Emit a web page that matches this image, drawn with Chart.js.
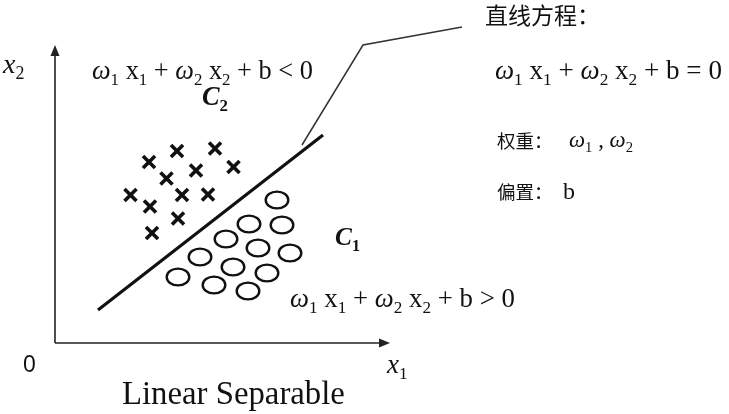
<!DOCTYPE html>
<html><head><meta charset="utf-8">
<script src="https://cdn.jsdelivr.net/npm/chart.js@4/dist/chart.umd.min.js"></script>
<style>html,body{margin:0;padding:0;background:#fff}#wrap{width:729px;height:414px;position:relative}</style>
</head><body><div id="wrap"><canvas id="c"></canvas></div>
<script>
// Diagram coordinates: x1 to the right of the origin, x2 upward.
const classC2X = [94,122,160,111.5,141,178.5,75.5,127,153,95,123,97];
const classC2Y = [181,192,194.5,164.5,172.5,176,148,148,148.5,136.5,124.5,110];
const classC1X = [222,194,227,171,203,235,145,178,212,123,159,193];
const classC1Y = [143,119,118,104,95,90,86,76,70,66,58,52];
const boundaryX = [43,268];
const boundaryY = [33,208];
const leaderX = [247,308,407];
const leaderY = [198,298,316];
const axisLabels = ['0','x1','x2'];
const title = 'Linear Separable';

const SERIF = '"Liberation Serif","DejaVu Serif",serif';
const CJK = '"Noto Sans CJK SC",sans-serif';

// ellipse marker
const ell = document.createElement('canvas');
ell.width = 28; ell.height = 22;
(function(){const g=ell.getContext('2d');g.lineWidth=2.4;g.strokeStyle='#111';g.beginPath();g.ellipse(14,11,11.3,8.4,0,0,Math.PI*2);g.stroke();})();

function pts(xs,ys){return xs.map((x,i)=>({x:x,y:ys[i]}));}

function rich(ctx,x,y,parts,size,align,target){
  const fontOf=(st,sz)=>{
    if(st==='i') return 'italic '+sz+'px '+SERIF;
    if(st==='s') return (sz*0.64).toFixed(2)+'px '+SERIF;
    if(st==='bi') return 'bold italic '+sz+'px '+SERIF;
    if(st==='bs') return 'bold '+(sz*0.64).toFixed(2)+'px '+SERIF;
    if(st==='c') return sz+'px '+CJK;
    return sz+'px '+SERIF;
  };
  const measure=(sz)=>{let w=0;parts.forEach(p=>{const s=sz*(p[2]||1);ctx.font=fontOf(p[1],s);w+=ctx.measureText(p[0]).width;});return w;};
  let w=measure(size);
  if(target){size=size*target/w;w=measure(size);}
  let cx = align==='center'? x-w/2 : align==='right'? x-w : x;
  ctx.textBaseline='alphabetic';ctx.textAlign='left';
  parts.forEach(p=>{
    const s=size*(p[2]||1);
    ctx.font=fontOf(p[1],s);
    const dy = (p[1]==='s'||p[1]==='bs') ? s*0.22 : 0;
    ctx.fillText(p[0],cx,y+dy);
    cx+=ctx.measureText(p[0]).width;
  });
}

const deco = {
  id:'deco',
  afterDatasetsDraw(chart){
    const ctx=chart.ctx, sx=chart.scales.x, sy=chart.scales.y;
    const X=v=>sx.getPixelForValue(v), Y=v=>sy.getPixelForValue(v);
    ctx.save();
    // arrowheads
    ctx.fillStyle='#222';
    ctx.beginPath();ctx.moveTo(X(0),Y(298));ctx.lineTo(X(0)-4.5,Y(287));ctx.lineTo(X(0)+4.5,Y(287));ctx.closePath();ctx.fill();
    ctx.beginPath();ctx.moveTo(X(335),Y(0));ctx.lineTo(X(324),Y(0)-4.5);ctx.lineTo(X(324),Y(0)+4.5);ctx.closePath();ctx.fill();
    ctx.fillStyle='#111';
    // axis labels
    ctx.font='23px "Liberation Sans",sans-serif';ctx.textAlign='left';ctx.textBaseline='alphabetic';
    ctx.fillText(axisLabels[0],X(-32),Y(-29));
    rich(ctx,X(332),Y(-30),[['x','i'],['1','s']],27,'left');
    rich(ctx,X(-52),Y(270),[['x','i'],['2','s']],28,'left');
    // title
    rich(ctx,X(67),Y(-61),[[title,'n']],32,'left',223);
    // region formulas
    const F=(op)=>[['ω','i'],['1','s'],[' x','n'],['1','s'],[' + ','n'],['ω','i'],['2','s'],[' x','n'],['2','s'],[' + b '+op+' 0','n']];
    rich(ctx,X(37),Y(264),F('<'),26,'left',221);
    rich(ctx,X(235),Y(36),F('>'),26,'left',225);
    rich(ctx,X(440),Y(264),F('='),26,'left',227);
    rich(ctx,X(147),Y(238),[['C','bi'],['2','bs']],26,'left',26);
    rich(ctx,X(280),Y(98),[['C','bi'],['1','bs']],26,'left',25);
    // right annotations
    rich(ctx,X(430),Y(319),[['直线方程：','c']],23,'left');
    rich(ctx,X(442),Y(195),[['权重：','c']],18.5,'left');
    rich(ctx,X(514),Y(196),[['ω','i'],['1','s'],[' , ','n'],['ω','i'],['2','s']],23,'left',64);
    rich(ctx,X(442),Y(144),[['偏置：','c']],18.5,'left');
    rich(ctx,X(508),Y(144),[['b','n']],24,'left');
    ctx.restore();
  }
};

new Chart(document.getElementById('c'),{
  type:'scatter',
  data:{datasets:[
    {data:[{x:0,y:0},{x:0,y:290}],showLine:true,borderColor:'#222',borderWidth:1.6,pointRadius:0},
    {data:[{x:0,y:0},{x:328,y:0}],showLine:true,borderColor:'#222',borderWidth:1.6,pointRadius:0},
    {data:pts(boundaryX,boundaryY),showLine:true,borderColor:'#111',borderWidth:3.2,pointRadius:0},
    {data:pts(leaderX,leaderY),showLine:true,borderColor:'#333',borderWidth:1.5,pointRadius:0},
    {data:pts(classC2X,classC2Y),pointStyle:'crossRot',pointRadius:8.5,borderWidth:3.6,borderColor:'#111',backgroundColor:'#111'},
    {data:pts(classC1X,classC1Y),pointStyle:ell,pointRadius:11}
  ]},
  options:{
    responsive:true,maintainAspectRatio:false,animation:false,
    layout:{padding:0,autoPadding:false},
    clip:false,
    plugins:{legend:{display:false},tooltip:{enabled:false}},
    events:[],
    scales:{
      x:{type:'linear',min:-55,max:674,display:false},
      y:{type:'linear',min:-71,max:343,display:false}
    }
  },
  plugins:[deco]
});
</script></body></html>
